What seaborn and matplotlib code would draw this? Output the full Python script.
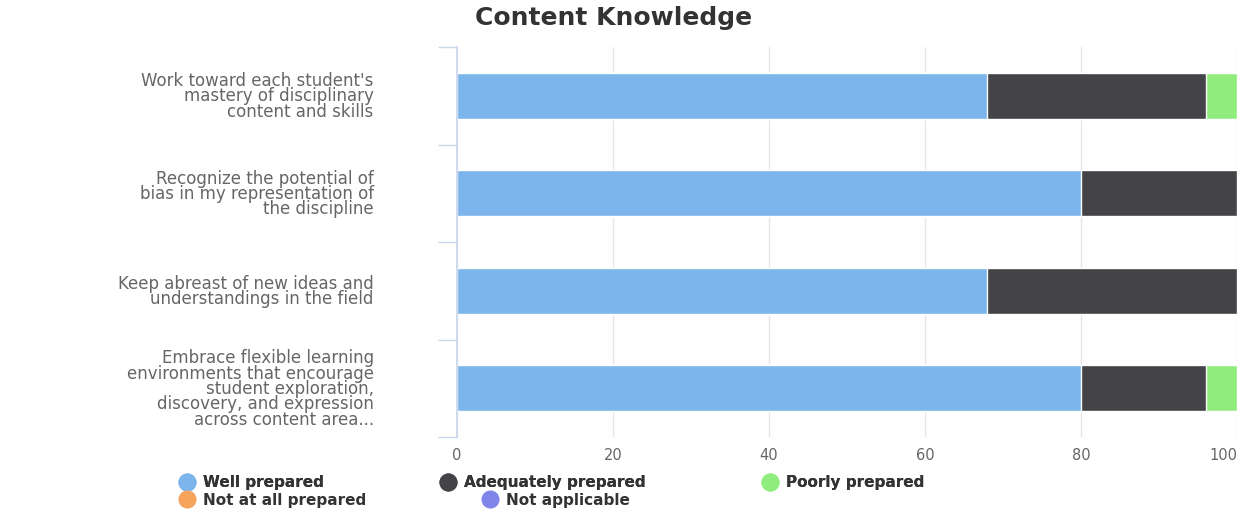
import numpy as np
import pandas as pd
import seaborn as sns
import matplotlib.pyplot as plt
from matplotlib.lines import Line2D

# chart data
statements = [
    "Work toward each student's\nmastery of disciplinary\ncontent and skills",
    "Recognize the potential of\nbias in my representation of\nthe discipline",
    "Keep abreast of new ideas and\nunderstandings in the field",
    "Embrace flexible learning\nenvironments that encourage\nstudent exploration,\ndiscovery, and expression\nacross content area...",
]
series = ["Well prepared", "Adequately prepared", "Poorly prepared",
          "Not at all prepared", "Not applicable"]
well = [68, 80, 68, 80]
adequate = [28, 20, 32, 16]
poorly = [4, 0, 0, 4]
not_at_all = [0, 0, 0, 0]
not_applicable = [0, 0, 0, 0]
colors = ["#7cb5ec", "#434348", "#90ed7d", "#f7a35c", "#8085e9"]

sns.set_theme(style="white")
plt.rcParams['font.family'] = ['DejaVu Sans']

df = pd.DataFrame({"statement": statements,
                   "Well prepared": well,
                   "Adequately prepared": adequate,
                   "Poorly prepared": poorly,
                   "Not at all prepared": not_at_all,
                   "Not applicable": not_applicable})
cum = df[series].cumsum(axis=1)

W, H = 1237, 509
fig = plt.figure(figsize=(W / 100, H / 100), dpi=100)
ax = fig.add_axes([457 / W, 1 - 437 / H, 780 / W, 390 / H])

# stacked bars: draw running totals from the last series back to the first
for name, color in reversed(list(zip(series, colors))):
    sns.barplot(x=cum[name], y=df["statement"], order=statements, color=color,
                orient="h", width=0.47, edgecolor="white", linewidth=1,
                saturation=1, ax=ax)

ax.set_xlim(0, 100)
ax.set_ylim(3.5, -0.5)
ax.set_xlabel("")
ax.set_ylabel("")
ax.set_xticks(range(0, 101, 20))
ax.grid(axis="x", color="#e6e6e6", lw=1)
ax.set_axisbelow(True)
for s in ["top", "right", "bottom"]:
    ax.spines[s].set_visible(False)
ax.spines["left"].set_color("#ccd6eb")

ax.tick_params(axis="x", length=0, pad=8, labelsize=10.5, labelcolor="#666666")
ax.get_xticklabels()[-1].set_horizontalalignment("right")
ax.tick_params(axis="y", which="major", left=False, length=0, pad=60,
               labelsize=12, labelcolor="#666666")
ax.set_yticks(np.arange(-0.5, 4, 1), minor=True)
ax.tick_params(axis="y", which="minor", left=True, length=14, width=1,
               color="#ccd6eb")
for lbl in ax.get_yticklabels():
    lbl.set_linespacing(0.82)
    lbl.set_horizontalalignment("right")

fig.text(614 / W, 1 - 18 / H, "Content Knowledge", ha="center", va="center",
         fontsize=18, weight="semibold", color="#333333")

# legend in two rows
handles = [Line2D([], [], marker="o", ls="", markersize=12,
                  markerfacecolor=c, markeredgecolor=c) for c in colors]
leg_kw = dict(frameon=False, loc="center left", borderpad=0, handletextpad=0.4,
              handlelength=1.3, prop={"weight": "bold", "size": 11},
              labelcolor="#333333", columnspacing=7.5)
leg1 = fig.legend(handles[:3], series[:3], ncol=3,
                  bbox_to_anchor=(169 / W, 1 - 483 / H), **leg_kw)
fig.add_artist(leg1)
fig.legend(handles[3:], series[3:], ncol=2,
           bbox_to_anchor=(169 / W, 1 - 500 / H), **leg_kw)

fig.savefig("out.png", dpi=100)
